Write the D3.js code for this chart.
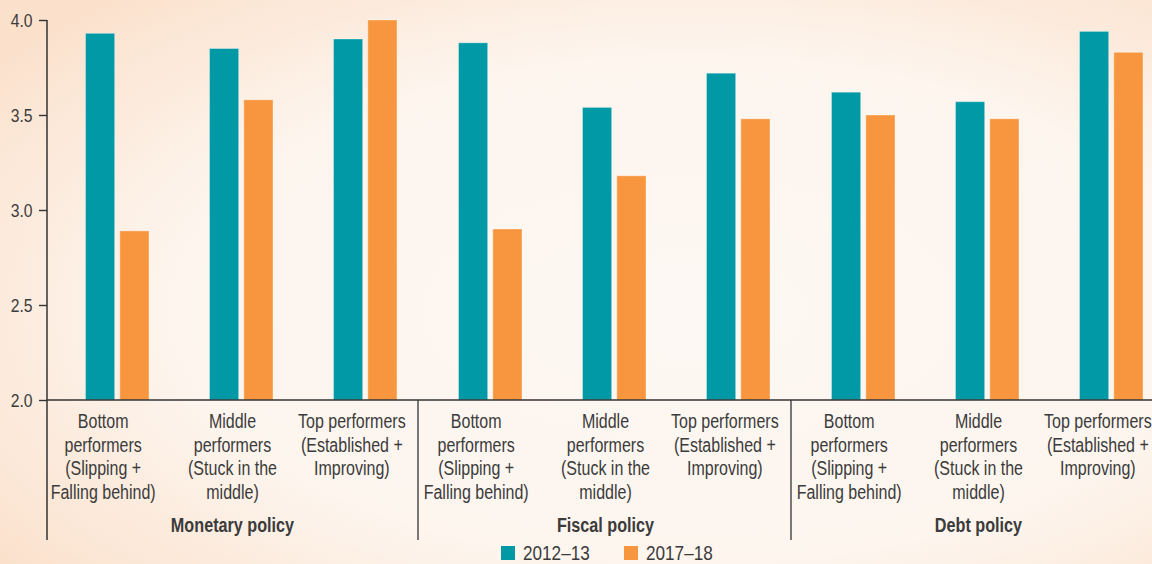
<!DOCTYPE html>
<html>
<head>
<meta charset="utf-8">
<script src="https://cdn.jsdelivr.net/npm/d3@7"></script>
<style>
  html, body { margin: 0; padding: 0; }
  body { width: 1152px; height: 564px; overflow: hidden; }
  svg { display: block; }
  text { font-family: "Liberation Sans", Arial, sans-serif; fill: #3b3b3b; }
</style>
</head>
<body>
<svg id="chart" width="1152" height="564"></svg>
<script>
// Policy areas and performer groups
const groups = ["Monetary policy", "Fiscal policy", "Debt policy"];
const performers = ["Bottom", "Middle", "Top"];
const performerLabels = [
  ["Bottom", "performers", "(Slipping +", "Falling behind)"],
  ["Middle", "performers", "(Stuck in the", "middle)"],
  ["Top performers", "(Established +", "Improving)"]
];
const series = ["2012\u201313", "2017\u201318"];

// Scores per policy area, ordered Bottom, Middle, Top
const values2012 = [
  [3.93, 3.85, 3.90],
  [3.88, 3.54, 3.72],
  [3.62, 3.57, 3.94]
];
const values2018 = [
  [2.89, 3.58, 4.00],
  [2.90, 3.18, 3.48],
  [3.50, 3.48, 3.83]
];
const yTicks = [2.0, 2.5, 3.0, 3.5, 4.0];
const colors = ["#0099a5", "#f7963e"];

const svg = d3.select("#chart");
const W = 1152, H = 564;

// Background wash
const defs = svg.append("defs");
const grad = defs.append("radialGradient").attr("id", "bg")
  .attr("cx", "0.6").attr("cy", "0.55").attr("r", "0.75");
grad.append("stop").attr("offset", "0").attr("stop-color", "#fdf8f3");
grad.append("stop").attr("offset", "0.6").attr("stop-color", "#fdf5ee");
grad.append("stop").attr("offset", "1").attr("stop-color", "#fbe1cc");
svg.append("rect").attr("width", W).attr("height", H).attr("fill", "url(#bg)");

const axisX = 47;
const y = d3.scaleLinear().domain([2, 4]).range([400, 20]);

// Outer scale: one band per policy area
const xGroup = d3.scaleBand().domain(groups).range([46, 46 + 373 * 3]).padding(0);
// Bars within a policy area
const xPerf = d3.scaleBand().domain(performers).range([9, 381]).padding(0);
// Label anchors within a policy area
const xLabel = d3.scaleBand().domain(performers).range([0, xGroup.bandwidth()]).padding(0);
const labelNudge = { Bottom: -5, Middle: 0, Top: -5 };
// Two series within a performer band
const xSeries = d3.scaleBand().domain(series).range([30.5, 94]).paddingInner(0.15);

// Condensed-text helper: horizontally squeezed text anchored at (x, y)
function narrowText(parent, x, yy, sx) {
  return parent.append("g").attr("transform", `translate(${x},${yy}) scale(${sx},1)`)
    .append("text").attr("x", 0).attr("y", 0);
}

// Bars
groups.forEach((g, gi) => {
  const gEl = svg.append("g").attr("transform", `translate(${xGroup(g)},0)`);
  performers.forEach((p, pi) => {
    const vals = [values2012[gi][pi], values2018[gi][pi]];
    series.forEach((s, si) => {
      gEl.append("rect")
        .attr("x", xPerf(p) + xSeries(s))
        .attr("y", y(vals[si]))
        .attr("width", xSeries.bandwidth())
        .attr("height", y(2) - y(vals[si]))
        .attr("fill", colors[si])
        .attr("stroke", "rgba(255,255,255,0.35)")
        .attr("stroke-width", 1);
    });
  });
});

// Y axis
const yAxis = d3.axisLeft(y).tickValues(yTicks).tickFormat(d3.format(".1f")).tickSize(8).tickPadding(6);
const yG = svg.append("g").attr("transform", `translate(${axisX},0)`).call(yAxis);
yG.select(".domain").remove();
yG.selectAll(".tick line").attr("stroke", "#333").attr("stroke-width", 1.4);
yG.selectAll(".tick text").each(function () {
  const t = d3.select(this);
  const label = t.text();
  const tick = d3.select(this.parentNode);
  t.remove();
  tick.append("g").attr("transform", "translate(-14.5,6.5) scale(0.85,1)")
    .append("text").attr("text-anchor", "end").attr("font-size", 18.5)
    .attr("fill", "#4a4a4a").attr("font-family", "'Liberation Sans', Arial, sans-serif")
    .text(label);
});

// Vertical axis line extending down past the category labels
svg.append("line").attr("x1", axisX).attr("x2", axisX).attr("y1", y(4)).attr("y2", 540)
  .attr("stroke", "#333").attr("stroke-width", 1.5);
// Baseline
svg.append("line").attr("x1", axisX).attr("x2", W).attr("y1", y(2)).attr("y2", y(2))
  .attr("stroke", "#333").attr("stroke-width", 1.5);

// Group separators
groups.slice(1).forEach(g => {
  const sx = xGroup(g) - 1;
  svg.append("line").attr("x1", sx).attr("x2", sx).attr("y1", y(2)).attr("y2", 540)
    .attr("stroke", "#333").attr("stroke-width", 1.3);
});

// Category labels
const lineH = 23.6;
groups.forEach((g, gi) => {
  performers.forEach((p, pi) => {
    const cx = xGroup(g) + xLabel(p) + xLabel.bandwidth() / 2 + labelNudge[p];
    const t = narrowText(svg, cx, 428, 0.8).attr("text-anchor", "middle").attr("font-size", 20)
      .attr("fill", "#404040");
    performerLabels[pi].forEach((line, li) => {
      t.append("tspan").attr("x", 0).attr("y", li * lineH).text(line);
    });
  });
  narrowText(svg, xGroup(g) + xGroup.bandwidth() / 2, 532, 0.81)
    .attr("text-anchor", "middle")
    .attr("font-size", 20)
    .attr("font-weight", "bold")
    .attr("fill", "#2e2e2e")
    .text(g);
});

// Legend
const legendX = [501, 624];
series.forEach((s, si) => {
  svg.append("rect").attr("x", legendX[si]).attr("y", 546).attr("width", 14).attr("height", 14)
    .attr("fill", colors[si]);
  narrowText(svg, legendX[si] + 22, 560, 0.88)
    .attr("font-size", 19.5).attr("fill", "#333").text(s);
});
</script>
</body>
</html>
